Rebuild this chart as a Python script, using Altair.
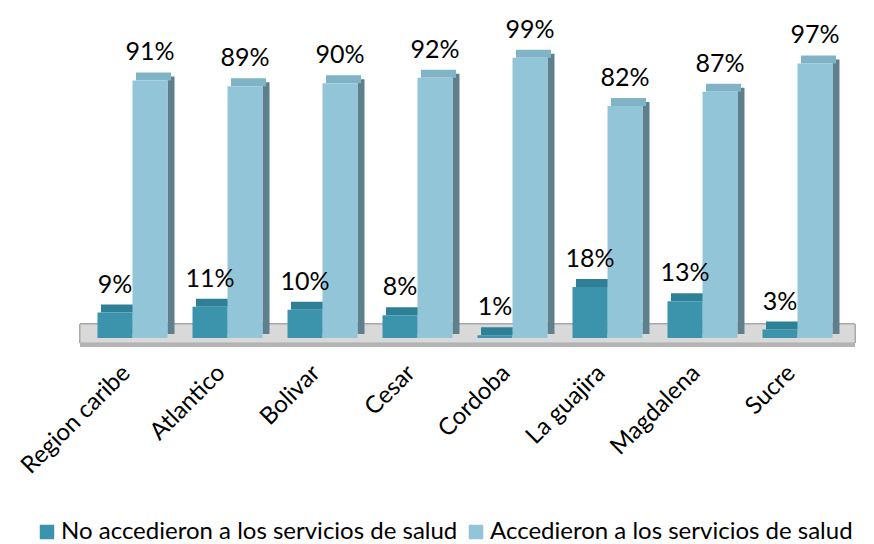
import altair as alt
import pandas as pd

regions = ["Region caribe", "Atlantico", "Bolivar", "Cesar", "Cordoba",
           "La guajira", "Magdalena", "Sucre"]
series_names = ["No accedieron a los servicios de salud",
                "Accedieron a los servicios de salud"]
no_accedieron = [9, 11, 10, 8, 1, 18, 13, 3]
accedieron = [91, 89, 90, 92, 99, 82, 87, 97]

rows = []
for r, a, b in zip(regions, no_accedieron, accedieron):
    rows.append({"region": r, "serie": series_names[0], "valor": a, "label": f"{a}%"})
    rows.append({"region": r, "serie": series_names[1], "valor": b, "label": f"{b}%"})
df = pd.DataFrame(rows)

FONT = "Lato"
DARK = "#3b94ac"
LIGHT = "#93c5d9"

W, H = 760, 283

xenc = alt.X("region:N", sort=regions,
             scale=alt.Scale(paddingInner=0.263, paddingOuter=0.1316),
             axis=alt.Axis(title=None, labelAngle=-45, labelAlign="right",
                           labelBaseline="middle", labelPadding=31, labelOffset=-6,
                           labelFontSize=24, labelFont=FONT, labelColor="#000000",
                           domain=False, ticks=False, grid=False))
yenc = alt.Y("valor:Q", scale=alt.Scale(domain=[0, 100]), axis=None)

base = alt.Chart(df)

floor = base.mark_rect(fill="#d9d9d9", stroke="#a8a8a8", strokeWidth=1).encode(
    x=alt.value(-5), x2=alt.value(770), y=alt.value(269), y2=alt.value(288))
floor_edge = base.mark_rect(fill="#b4b4b4").encode(
    x=alt.value(-5), x2=alt.value(770), y=alt.value(288), y2=alt.value(292))

def side(serie, off, color):
    return base.transform_filter(alt.datum.serie == serie).mark_bar(
        width=7, xOffset=off, yOffset=-4, color=color).encode(x=xenc, y=yenc)

def top(serie, off, color):
    return base.transform_filter(alt.datum.serie == serie).mark_tick(
        orient="horizontal", size=35, thickness=8, xOffset=off, yOffset=-4,
        color=color, opacity=1).encode(x=xenc, y=yenc)

sides = side(series_names[0], 3.5, "#2a6f82") + side(series_names[1], 38.5, "#5e808c")
tops = top(series_names[0], -14, "#2e8097") + top(series_names[1], 21, "#80b3c6")

fronts = base.mark_bar().encode(
    x=xenc,
    xOffset=alt.XOffset("serie:N", sort=series_names,
                        scale=alt.Scale(paddingInner=0, paddingOuter=0)),
    y=yenc,
    color=alt.Color("serie:N", sort=series_names,
                    scale=alt.Scale(domain=series_names, range=[DARK, LIGHT]),
                    legend=alt.Legend(title=None, orient="none", direction="horizontal",
                                      legendX=-50, legendY=465,
                                      symbolType="square", symbolSize=210,
                                      symbolStrokeWidth=0, labelFontSize=24,
                                      labelFont=FONT, labelColor="#000000",
                                      labelOffset=2, columnPadding=6,
                                      labelLimit=600)),
)

labels = base.mark_text(fontSize=25, font=FONT, color="#000000", dy=-28, dx=0,
                        baseline="middle").encode(
    x=xenc,
    xOffset=alt.XOffset("serie:N", sort=series_names,
                        scale=alt.Scale(paddingInner=0, paddingOuter=0)),
    y=yenc,
    text="label:N",
)

chart = alt.layer(floor, floor_edge, sides, tops, fronts, labels).properties(
    width=W, height=H,
    background="#ffffff",
    autosize=alt.AutoSizeParams(type="none"),
    padding={"left": 77, "top": 47, "right": 20, "bottom": 206},
).configure_view(strokeWidth=0, stroke="transparent")

chart.save("out.html", embed_options={"renderer": "svg", "actions": False})
